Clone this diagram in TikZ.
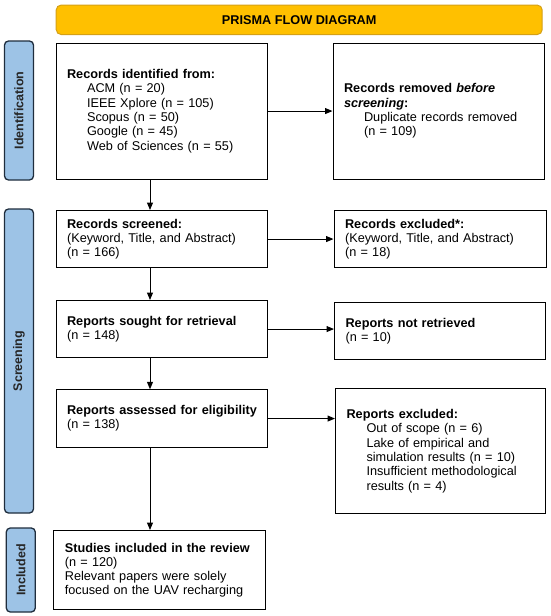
\documentclass[tikz,border=0pt]{standalone}
\usepackage{fontspec}
\setmainfont{Liberation Sans}
\usetikzlibrary{arrows.meta,calc}
\definecolor{gold}{HTML}{FFC000}
\definecolor{goldline}{HTML}{D4A017}
\definecolor{lblue}{HTML}{9DC3E6}
\definecolor{navy}{HTML}{1F2D3D}
\newcommand{\ind}{\hspace*{20pt}}
\newcommand{\hd}[1]{\mbox{\bfseries #1}}
\begin{document}
\begin{tikzpicture}[x=1pt,y=-1pt,
  box/.style={draw=black, line width=1.1pt, anchor=north west, inner xsep=11pt, inner ysep=0pt,
    align=left, font=\fontsize{12.7}{14.3}\selectfont,
    execute at begin node={\hyphenpenalty=10000\exhyphenpenalty=10000\hfuzz=20pt}},
  side/.style={draw=navy, fill=lblue, line width=1.3pt, rounded corners=4pt, rotate=90,
    minimum height=29pt, inner sep=0pt, font=\bfseries\fontsize{12.5}{14}\selectfont, text=black!85},
  arr/.style={-{Triangle[length=7.5pt,width=6pt]}, line width=1pt}]
\useasboundingbox (0,0) rectangle (550,616);
% title
\node[draw=goldline, fill=gold, line width=1pt, rounded corners=5pt, minimum width=486pt,
  minimum height=29.5pt, font=\bfseries\fontsize{12.7}{14}\selectfont] (title) at (299.2,19.8) {PRISMA FLOW DIAGRAM};
% side labels
\node[side, minimum width=139pt] (idl) at (19,110.5) {Identification};
\node[side, minimum width=304pt] (scl) at (19,361) {Screening};
\node[side, minimum width=84pt] (inl) at (20.8,570) {Included};
% boxes
\node[box, text width=189pt, minimum height=136pt] (b1) at (55.5,42.5) {%
\hd{Records identified from:}\\
\ind ACM (n = 20)\\
\ind IEEE Xplore (n = 105)\\
\ind Scopus (n = 50)\\
\ind Google (n = 45)\\
\ind Web of Sciences (n = 55)};
\node[box, text width=189pt, minimum height=136pt] (b2) at (332.5,42.5) {%
\hd{Records removed \textit{before}}\\
\hd{\textit{screening}:}\\
\ind Duplicate records removed\\
\ind (n = 109)\par\vspace{11pt}};
\node[box, text width=189pt, minimum height=57pt] (b3) at (55.5,210) {%
\hd{Records screened:}\\
(Keyword, Title, and Abstract)\\
(n = 166)};
\node[box, text width=190pt, minimum height=57pt] (b4) at (333.5,210) {%
\hd{Records excluded*:}\\
(Keyword, Title, and Abstract)\\
(n = 18)};
\node[box, text width=189pt, minimum height=57pt] (b5) at (55.5,300) {%
\hd{Reports sought for retrieval}\\
(n = 148)};
\node[box, text width=189pt, minimum height=57pt] (b6) at (334,302.3) {%
\hd{Reports not retrieved}\\
(n = 10)};
\node[box, text width=189pt, minimum height=57.4pt] (b7) at (55.5,389.3) {%
\hd{Reports assessed for eligibility}\\
(n = 138)};
\node[box, text width=188pt, minimum height=124.4pt] (b8) at (335,388.3) {%
\hd{Reports excluded:}\\
\ind Out of scope (n = 6)\\
\ind Lake of empirical and\\
\ind simulation results (n = 10)\\
\ind Insufficient methodological\\
\ind results (n = 4)};
\node[box, text width=189.7pt, minimum height=79.3pt] (b9) at (53.3,530) {%
\hd{Studies included in the review}\\
(n = 120)\\
Relevant papers were solely\\
\mbox{focused on the UAV recharging}};
% connectors
\coordinate (vx) at (150,0);
\draw[arr] (b1.south -| vx) -- (b3.north -| vx);
\draw[arr] (b3.south -| vx) -- (b5.north -| vx);
\draw[arr] (b5.south -| vx) -- (b7.north -| vx);
\draw[arr] (b7.south -| vx) -- (b9.north -| vx);
\draw[arr] (b1.east) -- (b2.west);
\draw[arr] (b3.east) -- (b4.west);
\draw[arr] (b5.east) -- (b6.west |- b5.east);
\draw[arr] (b7.east) -- (b8.west |- b7.east);
\end{tikzpicture}
\end{document}
